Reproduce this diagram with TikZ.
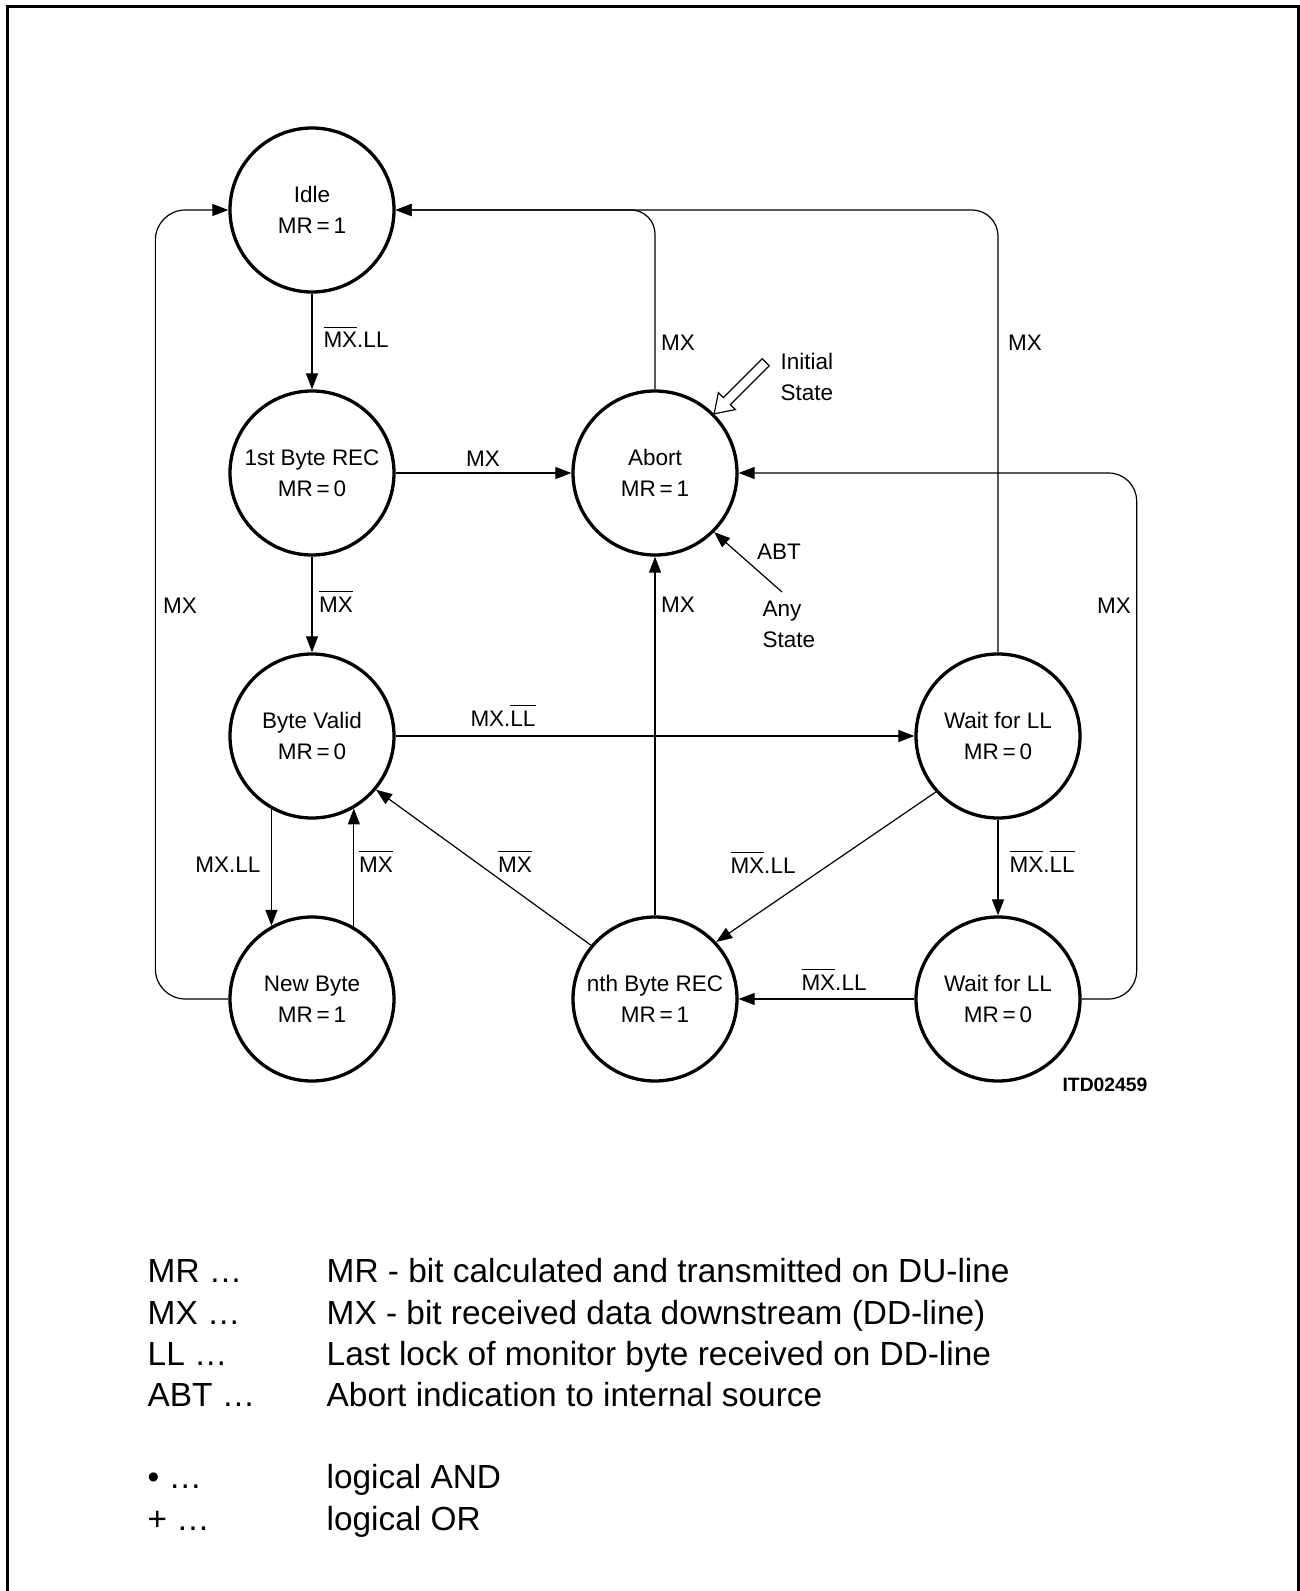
\documentclass[tikz,border=0pt]{standalone}
\usepackage{fontspec}
\setmainfont{Liberation Sans}
\usetikzlibrary{arrows.meta,calc}
\newcommand\diagfont{\fontsize{6.4}{8.9}\selectfont}
\newcommand\nbar[1]{$\overline{\mbox{#1}}$}
\tikzset{
  state/.style={circle,draw,line width=0.33mm,minimum size=1.64cm,inner sep=0pt,align=center,font=\diagfont},
  lbl/.style={font=\diagfont,inner sep=0pt,anchor=base},
  note/.style={font=\diagfont,inner sep=0pt,anchor=north west,align=left},
  trans/.style={-{Triangle[length=1.6mm,width=1.2mm]},line width=0.12mm},
  legend/.style={font=\fontsize{9.5}{11}\selectfont,inner sep=0pt,anchor=base west}
}
\begin{document}
\begin{tikzpicture}
        \useasboundingbox (0,0) rectangle (13,-15.91);
        \draw[line width=0.22mm] (0.075,-15.91) -- (0.075,-0.065) -- (12.985,-0.065) -- (12.985,-15.91);
        \node[state] (idle) at (3.12,-2.10) {Idle\\MR\,=\,1};
        \node[state] (first) at (3.12,-4.73) {1st Byte REC\\MR\,=\,0};
        \node[state] (abort) at (6.55,-4.73) {Abort\\MR\,=\,1};
        \node[state] (valid) at (3.12,-7.36) {Byte Valid\\MR\,=\,0};
        \node[state] (waitA) at (9.98,-7.36) {Wait for LL\\MR\,=\,0};
        \node[state] (newbyte) at (3.12,-9.99) {New Byte\\MR\,=\,1};
        \node[state] (nth) at (6.55,-9.99) {nth Byte REC\\MR\,=\,1};
        \node[state] (waitB) at (9.98,-9.99) {Wait for LL\\MR\,=\,0};
        \draw[trans] (idle) -- (first);
        \draw[trans] (first) -- (abort);
        \draw[trans] (first) -- (valid);
        \draw[trans] (valid) -- (waitA);
        \draw[trans] (valid.-119) -- (newbyte.119);
        \draw[trans] (newbyte.60) -- (valid.-60);
        \draw[trans] (nth.140) -- (valid.-40);
        \draw[trans] (waitA.-138) -- (nth.43);
        \draw[trans] (waitA) -- (waitB);
        \draw[trans] (waitB) -- (nth);
        \draw[trans] (nth) -- (abort);
        \draw[trans,rounded corners=0.24cm] (abort.north) |- (idle.east);
        \draw[trans,rounded corners=0.26cm] (waitA.north) |- (idle.east);
        \draw[trans,rounded corners=0.3cm] (newbyte.west) -- ++(-0.73,0) |- (idle.west);
        \draw[trans,rounded corners=0.28cm] (waitB.east) -- ++(0.55,0) |- (abort.east);
        \coordinate (anystate) at (7.82,-5.92);
        \draw[trans] (anystate) -- (abort.-45);
        \draw[line width=0.12mm,fill=white,shift={(abort.45)},rotate=45] (0,0) -- (0.18,0.12) -- (0.18,0.05) -- (0.73,0.05) -- (0.73,-0.05) -- (0.18,-0.05) -- (0.18,-0.12) -- cycle;
        \node[lbl] (lidlefirst) at (3.56,-3.48) {\nbar{MX}.LL};
        \node[lbl] (lfirstabort) at (4.83,-4.66) {MX};
        \node[lbl] (lfirstvalid) at (3.36,-6.12) {\nbar{MX}};
        \node[lbl] (lnewidle) at (1.80,-6.13) {MX};
        \node[lbl] (lvalidwait) at (5.03,-7.26) {MX.\nbar{LL}};
        \node[lbl] (lvalidnew) at (2.28,-8.72) {MX.LL};
        \node[lbl] (lnewvalid) at (3.76,-8.72) {\nbar{MX}};
        \node[lbl] (lnthvalid) at (5.15,-8.72) {\nbar{MX}};
        \node[lbl] (lwaitnth) at (7.63,-8.73) {\nbar{MX}.LL};
        \node[lbl] (lwaitwait) at (10.42,-8.72) {\nbar{MX}.\nbar{LL}};
        \node[lbl] (lwaitBnth) at (8.34,-9.90) {\nbar{MX}.LL};
        \node[lbl] (labortidle) at (6.78,-3.51) {MX};
        \node[lbl] (lwaitidle) at (10.25,-3.51) {MX};
        \node[lbl] (lwaitBabort) at (11.14,-6.13) {MX};
        \node[lbl] (lnthabort) at (6.78,-6.12) {MX};
        \node[lbl] (labt) at (7.79,-5.59) {ABT};
        \node[note] (anytext) at (7.62,-6.00) {Any\\State};
        \node[note] (inittext) at (7.80,-3.52) {Initial\\State};
        \node[font=\fontsize{5.5}{6}\selectfont\bfseries,inner sep=0pt] (docid) at (11.05,-10.85) {ITD02459};
        \foreach \sym/\txt/\yy [count=\i] in {MR/MR - bit calculated and transmitted on DU-line/12.82,
            MX/MX - bit received data downstream (DD-line)/13.24,
            LL/Last lock of monitor byte received on DD-line/13.65,
            ABT/Abort indication to internal source/14.06,
            \textbullet/logical AND/14.88,
            +/logical OR/15.30} {
          \node[legend] (key\i) at (1.47,-\yy) {\sym\ \ldots};
          \node[legend] (desc\i) at (3.26,-\yy) {\txt};
        }
      \end{tikzpicture}
\end{document}
